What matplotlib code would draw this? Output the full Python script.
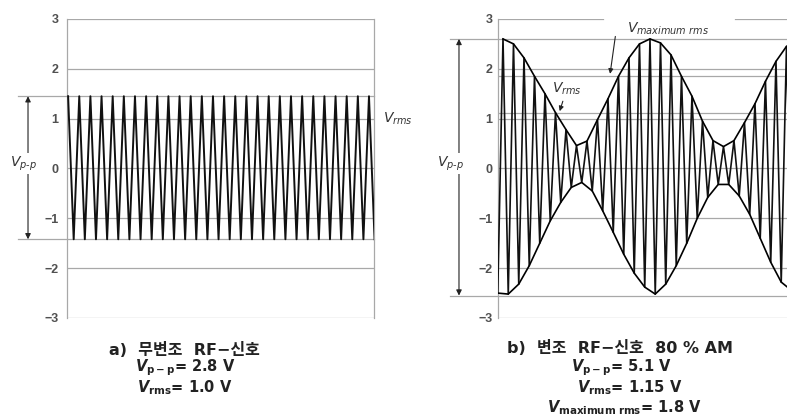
import numpy as np
import matplotlib.pyplot as plt
import matplotlib.transforms as mtransforms

plt.rcParams['font.family'] = ['Liberation Sans', 'Noto Sans CJK KR', 'DejaVu Sans']
plt.rcParams['mathtext.fontset'] = 'custom'
plt.rcParams['mathtext.rm'] = 'DejaVu Sans'
plt.rcParams['mathtext.it'] = 'DejaVu Sans:italic'
plt.rcParams['mathtext.bf'] = 'DejaVu Sans:bold'
plt.rcParams['mathtext.bfit'] = 'DejaVu Sans:bold:italic'

# a) unmodulated carrier: peak / trough values (one per half cycle)
left_tops = [1.45] * 28
left_bottoms = [-1.42] * 28

# b) 80 % AM: carrier peaks
right_tops = [2.60, 2.50, 2.22, 1.85, 1.50, 1.12, 0.78, 0.46, 0.55, 0.98,
              1.40, 1.85, 2.22, 2.50, 2.60, 2.52, 2.28, 1.85, 1.45, 0.95,
              0.56, 0.44, 0.56, 0.92, 1.30, 1.75, 2.15, 2.45]
right_bottoms = [-2.50, -2.52, -2.32, -1.95, -1.50, -1.05, -0.68, -0.38, -0.28,
                 -0.45, -0.85, -1.28, -1.72, -2.10, -2.38, -2.52, -2.32, -1.95,
                 -1.50, -1.00, -0.58, -0.32, -0.32, -0.55, -0.92, -1.40, -1.88,
                 -2.28, -2.45]

yticks = [-3, -2, -1, 0, 1, 2, 3]
left_pp = (1.45, -1.42)
right_pp = (2.60, -2.55)
rms_lines = [1.85, 1.12]

grid_c = '#a8a8a8'
txt_c = '#333333'

fig = plt.figure(figsize=(7.87, 4.19), dpi=100)
W, H = 787, 419
bottom = 1 - 318 / H
height = (318 - 19) / H
axL = fig.add_axes([67 / W, bottom, (374 - 67) / W, height])
axR = fig.add_axes([498 / W, bottom, (787 - 498) / W, height])


def zigzag(tops, bottoms, first_bottom):
    t, v = [], []
    n = max(len(tops), len(bottoms))
    for i in range(n):
        if first_bottom and i < len(bottoms):
            t.append(i - 0.5)
            v.append(bottoms[i])
        if i < len(tops):
            t.append(i)
            v.append(tops[i])
        if not first_bottom and i < len(bottoms):
            t.append(i + 0.5)
            v.append(bottoms[i])
    return t, v


for ax in (axL, axR):
    ax.set_ylim(-3, 3)
    ax.set_yticks(yticks)
    ax.set_yticklabels([str(v).replace('-', '\u2212') for v in yticks])
    ax.set_xticks([])
    ax.tick_params(axis='y', length=0, labelsize=9, labelcolor='#505050')
    for lab in ax.get_yticklabels():
        lab.set_fontweight('bold')
    for s in ax.spines.values():
        s.set_visible(False)
    ax.spines['left'].set_visible(True)
    ax.spines['left'].set_color(grid_c)
    ax.spines['left'].set_linewidth(0.9)

axL.tick_params(axis='y', pad=6)
axR.tick_params(axis='y', pad=4)
axL.spines['right'].set_visible(True)
axL.spines['right'].set_color(grid_c)
axL.spines['right'].set_linewidth(0.9)

# ---- left panel
axL.set_xlim(-0.1, 27.45)
for v in yticks:
    axL.axhline(v, color=grid_c, lw=0.9, zorder=1)
for v in left_pp:
    axL.axhline(v, xmin=-0.16, xmax=1, color=grid_c, lw=0.9, clip_on=False, zorder=1)
t, v = zigzag(left_tops, left_bottoms, False)
axL.plot(t, v, color='#111111', lw=1.4, zorder=3)

trL = mtransforms.blended_transform_factory(axL.transAxes, axL.transData)
axL.annotate('', xy=(-0.127, left_pp[0]), xytext=(-0.127, left_pp[1]),
             xycoords=trL, textcoords=trL, annotation_clip=False,
             arrowprops=dict(arrowstyle='<|-|>', color='#222222', lw=0.8,
                             shrinkA=0, shrinkB=0, mutation_scale=8))
axL.text(-0.143, 0.1, r'$V_{p\text{-}p}$', transform=trL, ha='center', va='center',
         fontsize=10, color=txt_c,
         bbox=dict(facecolor='white', edgecolor='none', pad=1))
axL.text(1.03, 1.0, r'$V_{rms}$', transform=trL, ha='left', va='center',
         fontsize=10, color=txt_c)

# ---- right panel
axR.set_xlim(-0.476, 27.05)
for v in yticks:
    if v == 3:
        axR.axhline(v, xmin=0, xmax=0.363, color=grid_c, lw=0.9, zorder=1)
        axR.axhline(v, xmin=0.82, xmax=1, color=grid_c, lw=0.9, zorder=1)
    else:
        axR.axhline(v, color=grid_c, lw=0.9, zorder=1)
for v in rms_lines:
    axR.axhline(v, color=grid_c, lw=0.9, zorder=1)
for v in right_pp:
    axR.axhline(v, xmin=-0.166, xmax=1, color=grid_c, lw=0.9, clip_on=False, zorder=1)

t, v = zigzag(right_tops, right_bottoms, True)
axR.plot(t, v, color='#111111', lw=1.2, zorder=3)
axR.plot(np.arange(len(right_tops)), right_tops, color='black', lw=1.2, zorder=4)
axR.plot(np.arange(len(right_bottoms)) - 0.5, right_bottoms, color='black', lw=1.2, zorder=4)

trR = mtransforms.blended_transform_factory(axR.transAxes, axR.transData)
axR.annotate('', xy=(-0.135, right_pp[0]), xytext=(-0.135, right_pp[1]),
             xycoords=trR, textcoords=trR, annotation_clip=False,
             arrowprops=dict(arrowstyle='<|-|>', color='#222222', lw=0.8,
                             shrinkA=0, shrinkB=0, mutation_scale=8))
axR.text(-0.166, 0.1, r'$V_{p\text{-}p}$', transform=trR, ha='center', va='center',
         fontsize=10, color=txt_c,
         bbox=dict(facecolor='white', edgecolor='none', pad=1))

axR.text(4.7, 1.6, r'$V_{rms}$', ha='left', va='center', fontsize=10, color=txt_c)
axR.annotate('', xy=(5.4, 1.15), xytext=(5.7, 1.35),
             arrowprops=dict(arrowstyle='-|>', color='#222222', lw=0.8,
                             shrinkA=0, shrinkB=0, mutation_scale=7))
axR.text(11.8, 2.8, r'$V_{maximum\ rms}$', ha='left', va='center', fontsize=10, color=txt_c)
axR.annotate('', xy=(10.2, 1.9), xytext=(10.7, 2.65),
             arrowprops=dict(arrowstyle='-|>', color='#222222', lw=0.8,
                             shrinkA=0, shrinkB=0, mutation_scale=7))

# ---- captions
cap_font = ['DejaVu Sans', 'Noto Sans CJK KR']
cap_kw = dict(ha='center', va='center', fontsize=10.5, fontweight='bold',
              family='DejaVu Sans', color='#222222')
fig.text(184 / W, 1 - 350 / H, 'a)  무변조  RF\u2212신호', ha='center', va='center',
         fontsize=11.5, fontweight='bold', family=cap_font, color='#222222')
fig.text(185 / W, 1 - 368 / H, r'$\mathbfit{V}_{\mathbf{p-p}}$= 2.8 V', **cap_kw)
fig.text(185 / W, 1 - 388 / H, r'$\mathbfit{V}_{\mathbf{rms}}$= 1.0 V', **cap_kw)

fig.text(620 / W, 1 - 348 / H, 'b)  변조  RF\u2212신호  80 % AM', ha='center', va='center',
         fontsize=11.5, fontweight='bold', family=cap_font, color='#222222')
fig.text(621 / W, 1 - 368 / H, r'$\mathbfit{V}_{\mathbf{p-p}}$= 5.1 V', **cap_kw)
fig.text(630 / W, 1 - 388 / H, r'$\mathbfit{V}_{\mathbf{rms}}$= 1.15 V', **cap_kw)
fig.text(624 / W, 1 - 408 / H, r'$\mathbfit{V}_{\mathbf{maximum\ rms}}$= 1.8 V', **cap_kw)

fig.savefig('out.png', dpi=100)
